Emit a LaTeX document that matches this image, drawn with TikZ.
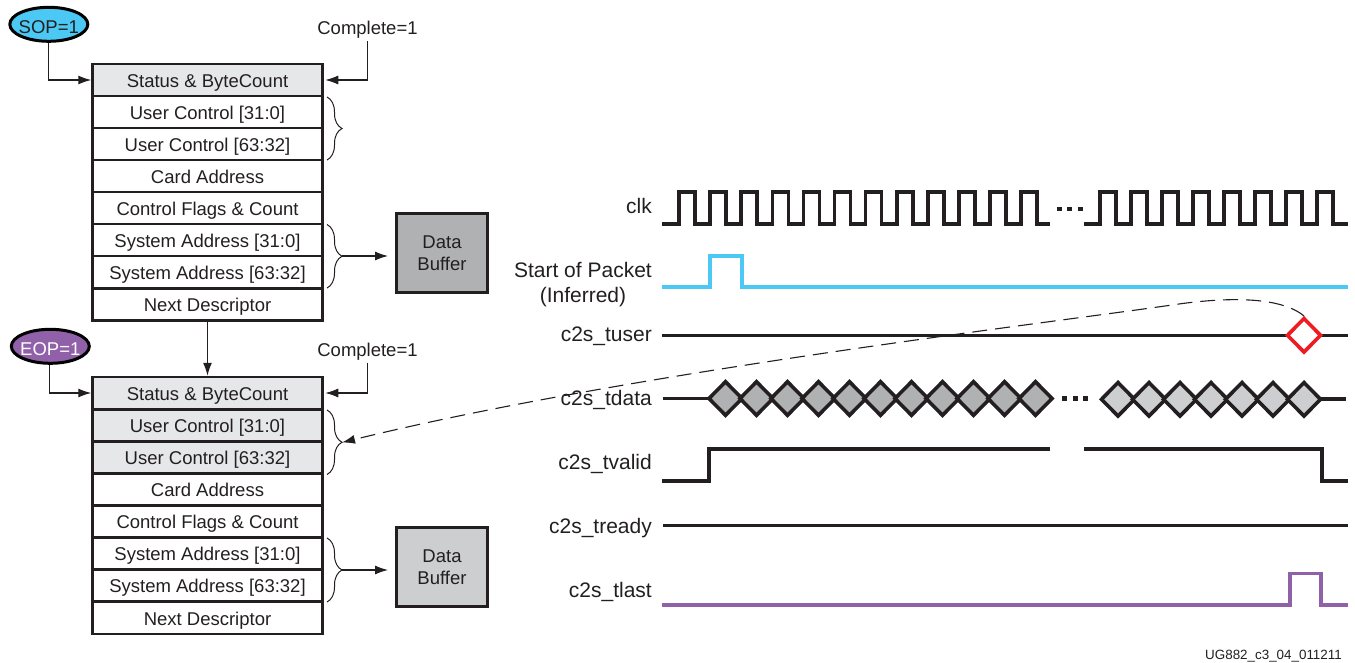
\documentclass[tikz,border=0pt]{standalone}
\usepackage{fontspec}
\setmainfont{Liberation Sans}
\usetikzlibrary{shapes.geometric, arrows.meta, decorations.pathreplacing}
\definecolor{lightgrey}{HTML}{E6E7E8}
\definecolor{midgrey}{HTML}{CDCED0}
\definecolor{darkgrey}{HTML}{B0B1B3}
\definecolor{sopblue}{HTML}{4CC8F4}
\definecolor{eoppurple}{HTML}{9060A8}
\definecolor{flagred}{HTML}{ED1C24}
\definecolor{ink}{HTML}{231F20}

\begin{document}
\begin{tikzpicture}[x=1pt, y=-1pt, every node/.style={font=\fontsize{18.5}{22}\selectfont, text=ink}, cell/.style={rectangle, draw=ink, line width=2.5pt, minimum width=230pt, minimum height=32pt, inner sep=0pt, text height=16pt, text depth=1.5pt}, grey/.style={cell, fill=lightgrey}, buf/.style={rectangle, draw=ink, line width=3pt, minimum width=91pt, minimum height=79pt, inner sep=0pt, align=center, text depth=0pt}, oval/.style={ellipse, draw=black, line width=3pt, minimum width=78pt, minimum height=34pt, inner sep=0pt, inner xsep=-8pt, text height=19pt, text depth=0pt}, lab/.style={anchor=east, align=center, inner sep=0pt, font=\fontsize{21}{25}\selectfont}, n/.style={-{Latex[length=13pt, width=9pt]}, draw=ink, line width=1.1pt}, d/.style={n, dash pattern=on 15pt off 8pt}, b/.style={decorate, decoration={brace, amplitude=15pt}, draw=ink, line width=1pt}, wave/.style={draw=ink, line width=3.6pt}, dots/.style={draw=ink, line width=4.5pt, dash pattern=on 5pt off 5.6pt}, dd/.style={diamond, draw=ink, line width=3.6pt, minimum width=34.5pt, minimum height=35pt, inner sep=0pt}]
    \useasboundingbox (0,0) rectangle (1355,663);
    % first descriptor
    \node[oval, fill=sopblue]  (sop) at (48.8,24.3) {SOP=1};
    \node[inner sep=0pt, minimum height=23pt] (comp1) at (367.5,29.5) {Complete=1};
    \node[grey] (stat1) at (207.5,80) {Status \& ByteCount};
    \node[cell] (usra1) at (207.5,112) {User Control [31:0]};
    \node[cell] (usrb1) at (207.5,144) {User Control [63:32]};
    \node[cell] (card1) at (207.5,176) {Card Address};
    \node[cell] (ctrl1) at (207.5,208) {Control Flags \& Count};
    \node[cell] (sysa1) at (207.5,240) {System Address [31:0]};
    \node[cell] (sysb1) at (207.5,272) {System Address [63:32]};
    \node[cell] (next1) at (207.5,304.5) {Next Descriptor};
    \node[buf, fill=darkgrey] (buf1) at (442,252.7) {Data\\Buffer};
    % second descriptor
    \node[oval, fill=eoppurple, text=white] (eop) at (50.3,346.3) {EOP=1};
    \node[inner sep=0pt, minimum height=22pt] (comp2) at (367.5,351.5) {Complete=1};
    \node[grey] (stat2) at (207.5,393) {Status \& ByteCount};
    \node[grey] (usra2) at (207.5,425.5) {User Control [31:0]};
    \node[grey] (usrb2) at (207.5,457.5) {User Control [63:32]};
    \node[cell] (card2) at (207.5,489.5) {Card Address};
    \node[cell] (ctrl2) at (207.5,521.5) {Control Flags \& Count};
    \node[cell] (sysa2) at (207.5,553) {System Address [31:0]};
    \node[cell] (sysb2) at (207.5,585.5) {System Address [63:32]};
    \node[cell] (next2) at (207.5,618) {Next Descriptor};
    \node[buf, fill=midgrey] (buf2) at (442,566.7) {Data\\Buffer};
    % brace tips
    \coordinate (usrtip1) at (342,128);
    \coordinate (systip1) at (342,256);
    \coordinate (usrtip2) at (342,442.5);
    \coordinate (systip2) at (342,570);
    \coordinate (bufin1) at (388,256);
    \coordinate (bufin2) at (388,570);
    % edges
    \draw [n] (sop) |- (stat1.west);
    \draw [n, shorten >=1.5pt] (comp1.south) |- (stat1.east);
    \draw [n] (next1.south) -- (stat2.north);
    \draw [n] (eop.-93) |- (stat2.west);
    \draw [n, shorten >=1.5pt] (comp2.south) |- (stat2.east);
    \draw [n] (systip1) -- (bufin1);
    \draw [n] (systip2) -- (bufin2);
    % braces
    \draw [b] (327,97) -- (327,160);
    \draw [b] (327,224.5) -- (327,288);
    \draw [b] (327,410) -- (327,474.5);
    \draw [b] (327,538) -- (327,602);
    % signal names
    \node[lab] (clk) at (652,206) {clk};
    \node[lab] (sopin) at (652,284.5) {Start of Packet\\(Inferred)};
    \node[lab] (tuser) at (652,336) {c2s\_tuser};
    \node[lab] (tdata) at (652,400) {c2s\_tdata};
    \node[lab] (tvalid) at (652,464) {c2s\_tvalid};
    \node[lab] (tready) at (652,528) {c2s\_tready};
    \node[lab] (tlast) at (652,592) {c2s\_tlast};
    \node[anchor=east, inner sep=0pt, font=\fontsize{13.4}{15}\selectfont] (ugref) at (1342,656.5) {UG882\_c3\_04\_011211};
    % waves
    \draw [wave] (662,224) foreach \k in {0,...,11} { -- (679+31.1*\k,224) -- ++(0,-32) -- ++(16,0) -- ++(0,32) } -- (1050,224);
    \draw [wave] (1084,224) foreach \k in {0,...,7} { -- (1100+31*\k,224) -- ++(0,-32) -- ++(16,0) -- ++(0,32) } -- (1348,224);
    \draw [dots] (1056.7,209) -- (1083.5,209);
    \draw [wave, draw=sopblue] (662,287) -- (710,287) -- (710,256) -- (742,256) -- (742,287) -- (1348,287);
    \draw [wave] (662,335.5) -- (1348,335.5);
    \draw [wave] (663,398.5) -- (710,398.5);
    \draw [wave] (1320,399) -- (1346,399);
    \draw [dots] (1062,398.7) -- (1089.5,398.7);
    \draw [wave] (662,481) -- (709,481) -- (709,449) -- (1050,449);
    \draw [wave] (1084,449) -- (1322,449) -- (1322,481) -- (1348,481);
    \draw [wave] (663,525.5) -- (1348,525.5);
    \draw [wave, draw=eoppurple] (662,605) -- (1290,605) -- (1290,573.5) -- (1321,573.5) -- (1321,605) -- (1348,605);
    % data eyes
    \foreach \k in {0,...,10} \node[dd, fill=darkgrey] (dfirst\k) at (725.5+31*\k,398.5) {};
    \foreach \k in {0,...,6} \node[dd, fill=midgrey] (dlast\k) at (1118+31*\k,399.3) {};
    \node[dd, draw=flagred, fill=white] (flag) at (1304,335.3) {};
    % dashed link
    \draw [d] (flag.north) .. controls (1280,296) and (1225,297) .. (1172,305) .. controls (1040,324) and (620,374) .. (usrtip2);
\end{tikzpicture}
\end{document}
